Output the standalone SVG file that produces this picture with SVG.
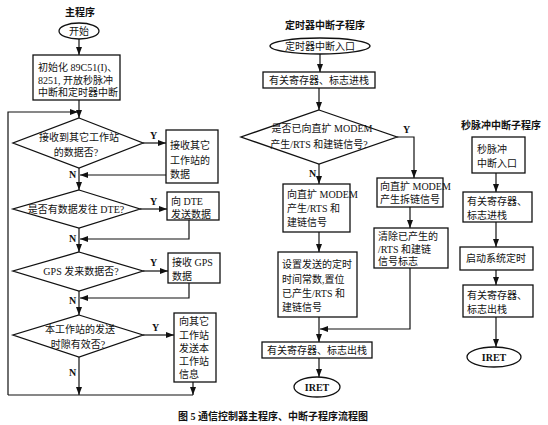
<svg xmlns="http://www.w3.org/2000/svg" width="548" height="425" viewBox="0 0 548 425">
<defs>
<marker id="ah" viewBox="0 0 8 6" refX="8" refY="3" markerWidth="8" markerHeight="6" markerUnits="userSpaceOnUse" orient="auto">
<path d="M0,0 L8,3 L0,6 z" fill="#111"/>
</marker>
<style>
.s{fill:#fff;stroke:#111;stroke-width:1.3}
.c{fill:none;stroke:#111;stroke-width:1.2}
.a{fill:none;stroke:#111;stroke-width:1.2;marker-end:url(#ah)}
text{font-family:"Liberation Serif","Noto Sans CJK SC",serif;font-size:10px;fill:#111}
.m{text-anchor:middle}
.t{font-weight:bold}
.l{font-size:10px;font-weight:bold}
</style>
</defs>
<rect width="548" height="425" fill="#fff"/>

<!-- titles -->
<text class="m t" x="80" y="16">主程序</text>
<text class="m t" x="325" y="29">定时器中断子程序</text>
<text class="m t" x="501" y="129">秒脉冲中断子程序</text>
<text class="m t" x="273" y="420">图 5  通信控制器主程序、中断子程序流程图</text>

<!-- main program nodes -->
<g id="start"><ellipse class="s" cx="79" cy="31" rx="20" ry="8"/><text class="m" x="79" y="34.5">开始</text></g>
<g id="init"><rect class="s" x="33" y="55" width="87" height="45"/>
<text x="38" y="71">初始化 89C51(I)、</text><text x="38" y="84">8251, 开放秒脉冲</text><text x="38" y="96">中断和定时器中断</text></g>
<g id="d1"><polygon class="s" points="79,118 143,143 79,168 13,143"/>
<text class="m" x="79" y="141">接收到其它工作站</text><text class="m" x="76" y="156">的数据否?</text></g>
<g id="b1"><rect class="s" x="166" y="130" width="52" height="53"/>
<text x="170" y="149">接收其它</text><text x="170" y="164">工作站的</text><text x="170" y="178">数据</text></g>
<g id="d2"><polygon class="s" points="79,190 140,209 79,228 13,209"/>
<text class="m" x="76" y="212.5">是否有数据发往 DTE?</text></g>
<g id="b2"><rect class="s" x="167" y="192" width="52" height="28"/>
<text x="171" y="205">向 DTE</text><text x="171" y="218">发送数据</text></g>
<g id="d3"><polygon class="s" points="79,252 143,271 79,291 13,271"/>
<text class="m" x="81" y="274.5">GPS 发来数据否?</text></g>
<g id="b3"><rect class="s" x="168" y="253" width="52" height="30"/>
<text x="172" y="266">接收 GPS</text><text x="172" y="280">数据</text></g>
<g id="d4"><polygon class="s" points="79,315 143,335 79,357 13,335"/>
<text class="m" x="80" y="333">本工作站的发送</text><text class="m" x="78" y="348">时隙有效否?</text></g>
<g id="b4"><rect class="s" x="174" y="313" width="42" height="69"/>
<text x="179" y="325">向其它</text><text x="179" y="339">工作站</text><text x="179" y="352">发送本</text><text x="179" y="365">工作站</text><text x="179" y="378">信息</text></g>

<!-- timer subroutine nodes -->
<g id="tstart"><ellipse class="s" cx="320" cy="46" rx="50" ry="8"/><text class="m" x="320" y="49.5">定时器中断入口</text></g>
<g id="tpush"><rect class="s" x="263" y="72" width="112" height="16"/><text class="m" x="319" y="83.5">有关寄存器、标志进栈</text></g>
<g id="td"><polygon class="s" points="319,110 397,137 319,164 241,137"/>
<text class="m" x="322" y="132">是否已向直扩 MODEM</text><text class="m" x="319" y="148">产生/RTS 和建链信号?</text></g>
<g id="tb1"><rect class="s" x="283" y="184" width="67" height="48"/>
<text x="287" y="198">向直扩 MODEM</text><text x="287" y="212">产生/RTS 和</text><text x="287" y="226">建链信号</text></g>
<g id="tb2"><rect class="s" x="278" y="252" width="79" height="65"/>
<text x="282" y="268">设置发送的定时</text><text x="282" y="283">时间常数,置位</text><text x="282" y="297">已产生/RTS 和</text><text x="282" y="311">建链信号</text></g>
<g id="tb3"><rect class="s" x="377" y="178" width="66" height="29"/>
<text x="380" y="190">向直扩 MODEM</text><text x="380" y="203">产生拆链信号</text></g>
<g id="tb4"><rect class="s" x="374" y="228" width="74" height="40"/>
<text x="378" y="240">清除已产生的</text><text x="378" y="253">/RTS 和建链</text><text x="378" y="265">信号标志</text></g>
<g id="tpop"><rect class="s" x="262" y="342" width="110" height="16"/><text class="m" x="317" y="353.5">有关寄存器、标志出栈</text></g>
<g id="tiret"><ellipse class="s" cx="317" cy="387" rx="23" ry="10"/><text class="m t" x="317" y="390.5">IRET</text></g>

<!-- second pulse subroutine nodes -->
<g id="sstart"><rect class="s" x="472" y="137" width="53" height="36"/>
<text x="477" y="153">秒脉冲</text><text x="477" y="167">中断入口</text></g>
<g id="spush"><rect class="s" x="463" y="192" width="69" height="30"/>
<text x="467" y="205">有关寄存器、</text><text x="467" y="219">标志进栈</text></g>
<g id="stimer"><rect class="s" x="460" y="247" width="73" height="23"/>
<text class="m" x="496" y="262">启动系统定时</text></g>
<g id="spop"><rect class="s" x="463" y="285" width="70" height="32"/>
<text x="467" y="299">有关寄存器、</text><text x="467" y="313">标志出栈</text></g>
<g id="siret"><ellipse class="s" cx="494" cy="357" rx="27" ry="10"/><text class="m t" x="494" y="360.5">IRET</text></g>

<!-- connectors -->
<g id="connectors">
<path class="a" d="M79,39 V55"/>
<path class="a" d="M79,100 V118"/>
<path class="a" d="M8,395 V112 H78"/>
<path class="a" d="M143,143 H166"/>
<path class="a" d="M166,175 H80"/>
<path class="a" d="M79,168 V190"/>
<path class="a" d="M140,209 H167"/>
<path class="a" d="M189,220 V239 H80"/>
<path class="a" d="M79,228 V252"/>
<path class="a" d="M143,271 H168"/>
<path class="a" d="M189,283 V298 H80"/>
<path class="a" d="M79,291 V315"/>
<path class="a" d="M143,335 H174"/>
<path class="a" d="M79,357 V395"/>
<path class="a" d="M193,382 V395"/>
<path class="c" d="M8,395 H193"/>

<path class="a" d="M320,54 V72"/>
<path class="a" d="M319,88 V110"/>
<path class="a" d="M319,164 V184"/>
<path class="a" d="M319,232 V252"/>
<path class="a" d="M319,317 V342"/>
<path class="a" d="M410,268 V329 H320"/>
<path class="a" d="M319,358 V377"/>
<path class="a" d="M397,137 H414 V178"/>
<path class="a" d="M410,207 V228"/>

<path class="a" d="M496,173 V192"/>
<path class="a" d="M496,222 V247"/>
<path class="a" d="M496,270 V285"/>
<path class="a" d="M496,317 V347"/>
</g>

<!-- labels -->
<text class="l" x="150" y="139">Y</text>
<text class="l" x="69" y="178">N</text>
<text class="l" x="150" y="205">Y</text>
<text class="l" x="69" y="242">N</text>
<text class="l" x="150" y="266">Y</text>
<text class="l" x="69" y="304">N</text>
<text class="l" x="152" y="331">Y</text>
<text class="l" x="69" y="376">N</text>
<text class="l" x="309" y="177">N</text>
<text class="l" x="403" y="133">Y</text>
</svg>
